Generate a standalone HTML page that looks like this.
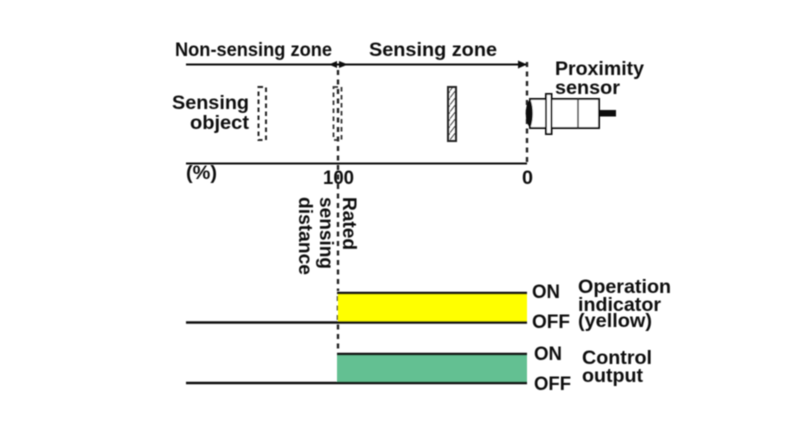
<!DOCTYPE html>
<html>
<head>
<meta charset="utf-8">
<style>
html,body{margin:0;padding:0;background:#fff;}
svg{display:block;}
text{font-family:"Liberation Sans",sans-serif;font-weight:bold;fill:#111;font-size:19px;}
</style>
</head>
<body>
<svg width="785" height="432" viewBox="0 0 785 432" xmlns="http://www.w3.org/2000/svg">
<defs>
<pattern id="h" width="5" height="7" patternUnits="userSpaceOnUse">
<path d="M-1 8L6 -1" stroke="#444" stroke-width="1"/>
</pattern>
<filter id="b" x="0" y="0" width="100%" height="100%" filterUnits="userSpaceOnUse">
<feGaussianBlur stdDeviation="0.45"/>
</filter>
</defs>
<rect width="785" height="432" fill="#fff"/>
<g filter="url(#b)">
<!-- main lines -->
<path d="M186 64.500H527M186 163.500H527" stroke="#111" stroke-width="2" fill="none"/>
<path d="M337 61L329 64.500L337 68ZM339 61L348 64.500L339 68Z" fill="#111"/>
<path d="M518 60.500L527 64.500L518 68.500Z" fill="#111"/>
<!-- dashed verticals -->
<path d="M338 70V291" stroke="#222" stroke-width="2.400" stroke-dasharray="5 4.500" fill="none"/>
<path d="M338 296V350" stroke="#222" stroke-width="2.400" stroke-dasharray="5 4.500" fill="none"/>
<path d="M527 62V163" stroke="#222" stroke-width="2.400" stroke-dasharray="5 4.500" fill="none"/>
<!-- sensing object positions -->
<rect x="258.500" y="87" width="7.500" height="53" fill="none" stroke="#222" stroke-width="2" stroke-dasharray="4.500 3.500"/>
<rect x="333.500" y="87" width="8" height="53" fill="none" stroke="#333" stroke-width="1.800" stroke-dasharray="4.500 3.500"/>
<rect x="448" y="87" width="8" height="54" fill="url(#h)" stroke="#222" stroke-width="2"/>
<!-- sensor -->
<rect x="530" y="99" width="69" height="29" fill="#fff" stroke="#111" stroke-width="2"/>
<path d="M578 99V128" stroke="#333" stroke-width="1.500"/>
<rect x="546" y="94" width="5.500" height="40" fill="#fff" stroke="#111" stroke-width="2"/>
<path d="M530 100C525 106 525 121 530 127C533 120 533 107 530 100Z" fill="#111" stroke="#111"/>
<rect x="599" y="110" width="17" height="6.500" fill="#111"/>
<!-- timing charts -->
<rect x="338" y="293" width="189" height="29" fill="#ffff00"/>
<path d="M337 293H527M186 322.500H527" stroke="#111" stroke-width="2.400" fill="none"/>
<rect x="337" y="355" width="190" height="28" fill="#64c092"/>
<path d="M337 354H527M186 383H527" stroke="#111" stroke-width="2.400" fill="none"/>
<!-- labels -->
<text x="175" y="56" textLength="157" lengthAdjust="spacingAndGlyphs">Non-sensing zone</text>
<text x="369" y="56" textLength="128" lengthAdjust="spacingAndGlyphs">Sensing zone</text>
<text x="555" y="75" textLength="89" lengthAdjust="spacingAndGlyphs">Proximity</text>
<text x="555" y="94" textLength="65" lengthAdjust="spacingAndGlyphs">sensor</text>
<text x="172" y="109" textLength="77" lengthAdjust="spacingAndGlyphs">Sensing</text>
<text x="190" y="129" textLength="59" lengthAdjust="spacingAndGlyphs">object</text>
<text x="186" y="179" textLength="31" lengthAdjust="spacingAndGlyphs">(%)</text>
<text x="323" y="184" textLength="31" lengthAdjust="spacingAndGlyphs">100</text>
<text x="522" y="184" textLength="11" lengthAdjust="spacingAndGlyphs">0</text>
<text transform="translate(343,197) rotate(90)" textLength="53" lengthAdjust="spacingAndGlyphs">Rated</text>
<text transform="translate(320,197) rotate(90)" textLength="72" lengthAdjust="spacingAndGlyphs">sensing</text>
<text transform="translate(299,197) rotate(90)" textLength="78" lengthAdjust="spacingAndGlyphs">distance</text>
<text x="532" y="298" textLength="28" lengthAdjust="spacingAndGlyphs">ON</text>
<text x="532" y="328" textLength="38" lengthAdjust="spacingAndGlyphs">OFF</text>
<text x="578" y="293" textLength="93" lengthAdjust="spacingAndGlyphs">Operation</text>
<text x="578" y="311" textLength="83" lengthAdjust="spacingAndGlyphs">indicator</text>
<text x="578" y="327" textLength="74" lengthAdjust="spacingAndGlyphs">(yellow)</text>
<text x="534" y="360" textLength="28" lengthAdjust="spacingAndGlyphs">ON</text>
<text x="534" y="390" textLength="37" lengthAdjust="spacingAndGlyphs">OFF</text>
<text x="582" y="364" textLength="70" lengthAdjust="spacingAndGlyphs">Control</text>
<text x="582" y="382" textLength="61" lengthAdjust="spacingAndGlyphs">output</text>
</g>
</svg>
</body>
</html>
